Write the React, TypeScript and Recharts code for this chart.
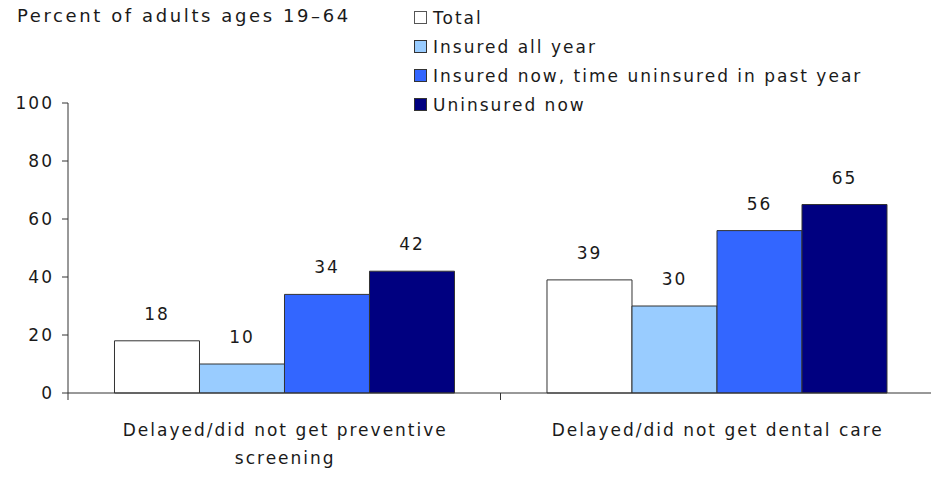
import React from 'react';
import { BarChart, Bar, XAxis, YAxis, LabelList } from 'recharts';

const categories = ['Delayed/did not get preventive screening', 'Delayed/did not get dental care'];
const categoryLines = [['Delayed/did not get preventive', 'screening'], ['Delayed/did not get dental care']];
const total = [18, 39];
const insuredAllYear = [10, 30];
const insuredNowGap = [34, 56];
const uninsuredNow = [42, 65];
const yTicks = [0, 20, 40, 60, 80, 100];

const seriesNames = ['Total', 'Insured all year', 'Insured now, time uninsured in past year', 'Uninsured now'];
const seriesKeys = ['total', 'insuredAllYear', 'insuredNowGap', 'uninsuredNow'];
const seriesColors = ['#FFFFFF', '#99CCFF', '#3366FF', '#000080'];

const data = categories.map((c, i) => ({
  name: c,
  total: total[i],
  insuredAllYear: insuredAllYear[i],
  insuredNowGap: insuredNowGap[i],
  uninsuredNow: uninsuredNow[i],
}));

const FONT = '"DejaVu Sans", Verdana, sans-serif';
const TEXT = '#1a1a1a';
const FS = 17;
const LS = 2;

const XTick = (props: any) => {
  const { x, y, payload, index } = props;
  const half = payload && payload.offset ? payload.offset : 216;
  const lines = categoryLines[index] || [String(payload.value)];
  return (
    <g>
      <line x1={x + half} x2={x + half} y1={y} y2={y + 7} stroke="#333" strokeWidth={1} />
      {index === 0 && <line x1={x - half} x2={x - half} y1={y} y2={y + 7} stroke="#333" strokeWidth={1} />}
      {lines.map((l, k) => (
        <text key={k} x={x + LS / 2} y={y + 43 + k * 28} textAnchor="middle" fontFamily={FONT} fontSize={FS} letterSpacing={LS} fill={TEXT}>
          {l}
        </text>
      ))}
    </g>
  );
};

export default function App() {
  return (
    <div style={{ position: 'absolute', left: 0, top: 0, width: 931, height: 481, overflow: 'hidden', background: '#fff' }}>
      <div style={{ position: 'absolute', left: 17, top: 5, fontFamily: FONT, fontSize: 18, letterSpacing: 2.6, color: TEXT, whiteSpace: 'nowrap' }}>
        Percent of adults ages 19–64
      </div>
      <div style={{ position: 'absolute', left: 414, top: 3, fontFamily: FONT, fontSize: FS, letterSpacing: LS, color: TEXT }}>
        {seriesNames.map((n, i) => (
          <div key={n} style={{ display: 'flex', alignItems: 'center', height: 29 }}>
            <span
              style={{
                display: 'inline-block',
                width: 11,
                height: 11,
                background: seriesColors[i],
                border: i === 0 ? '1px solid #555' : '1px solid #333',
                marginRight: 6,
              }}
            />
            <span style={{ whiteSpace: 'nowrap' }}>{n}</span>
          </div>
        ))}
      </div>
      <BarChart
        width={940}
        height={481}
        data={data}
        margin={{ top: 103, right: 7, bottom: 28, left: 8 }}
        barCategoryGap="10.75%"
        barGap={0}
        style={{ position: 'absolute', left: 0, top: 0 }}
      >
        <YAxis
          domain={[0, 100]}
          ticks={yTicks}
          width={60}
          tickSize={6}
          tickMargin={8}
          axisLine={{ stroke: '#333' }}
          tickLine={{ stroke: '#333' }}
          tick={{ fontFamily: FONT, fontSize: FS, fill: TEXT, letterSpacing: LS }}
          interval={0}
        />
        <XAxis
          dataKey="name"
          height={60}
          tickLine={false}
          tickSize={0}
          tickMargin={0}
          axisLine={{ stroke: '#333' }}
          tick={<XTick />}
          interval={0}
        />
        {seriesKeys.map((k, i) => (
          <Bar key={k} dataKey={k} name={seriesNames[i]} fill={seriesColors[i]} stroke="#333" strokeWidth={1} isAnimationActive={false}>
            <LabelList dataKey={k} position="top" offset={21} fontFamily={FONT} fontSize={FS} fill={TEXT} letterSpacing={LS} />
          </Bar>
        ))}
      </BarChart>
    </div>
  );
}
